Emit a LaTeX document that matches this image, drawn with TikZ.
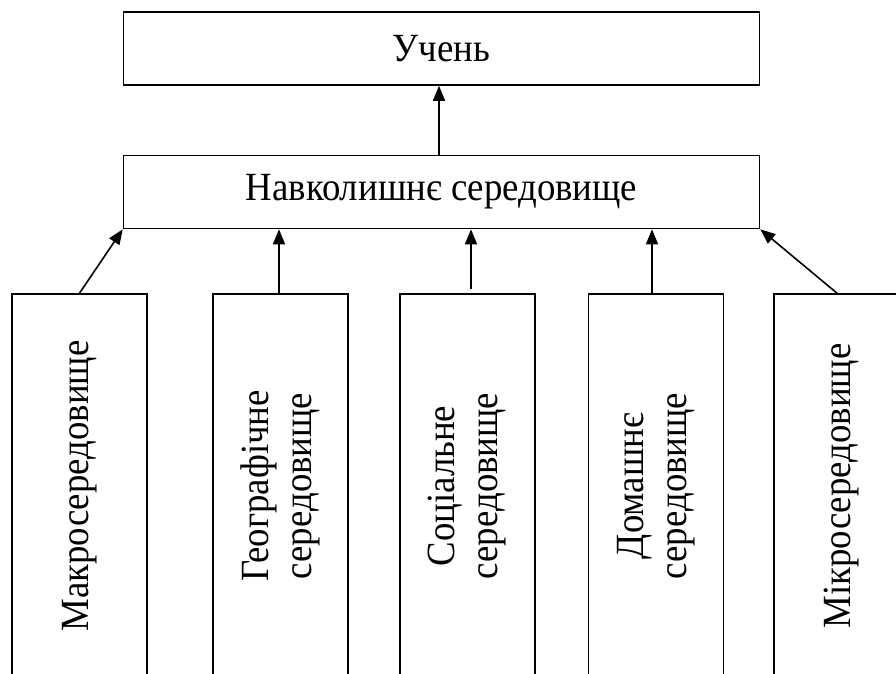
\documentclass[tikz,border=0pt]{standalone}
\usepackage{fontspec}
\setmainfont[FakeStretch=0.92]{Liberation Serif}
\usetikzlibrary{arrows.meta}
\tikzset{
  boxline/.style={draw=black, line width=1.6pt},
  hbox/.style={boxline, minimum width=636pt, minimum height=73pt, inner sep=0pt},
  vbox/.style={boxline, minimum width=135pt, minimum height=384pt, inner sep=0pt},
  vtext/.style={rotate=90, align=center, inner sep=0pt, font=\fontsize{40pt}{43pt}\selectfont},
  arr/.style={line width=1.6pt, -{Triangle[length=15pt,width=12pt]}}
}
\begin{document}
\begin{tikzpicture}[x=1pt,y=-1pt, font=\fontsize{40pt}{43pt}\selectfont]
\useasboundingbox (0,0) rectangle (896,673);
\node[hbox] (top) at (441.5,48.5) {Учень};
\node[hbox] (mid) at (441.5,192) {Навколишнє середовище};
\node[vbox] (b1) at (79.5,486) {};
\node[vbox] (b2) at (280.5,486) {};
\node[vbox] (b3) at (467.5,486) {};
\node[vbox] (b4) at (656,486) {};
\node[vbox] (b5) at (841.5,486) {};
\node[vtext] (t1) at (b1.center) {Макросередовище};
\node[vtext] (t2) at (b2.center) {Географічне\\середовище};
\node[vtext] (t3) at (b3.center) {Соціальне\\середовище};
\node[vtext] (t4) at (b4.center) {Домашнє\\середовище};
\node[vtext] (t5) at (b5.center) {Мікросередовище};
\coordinate (s0) at (439,155);
\coordinate (s2) at (279,294);
\coordinate (s3) at (471,289);
\coordinate (s4) at (652,294);
\coordinate (s5) at (838,294);
\draw[arr] (s0) -- (s0 |- top.south);
\draw[arr] (b1.north) -- (mid.south west);
\draw[arr] (s2) -- (s2 |- mid.south);
\draw[arr] (s3) -- (s3 |- mid.south);
\draw[arr] (s4) -- (s4 |- mid.south);
\draw[arr] (s5) -- (mid.south east);
\end{tikzpicture}
\end{document}
